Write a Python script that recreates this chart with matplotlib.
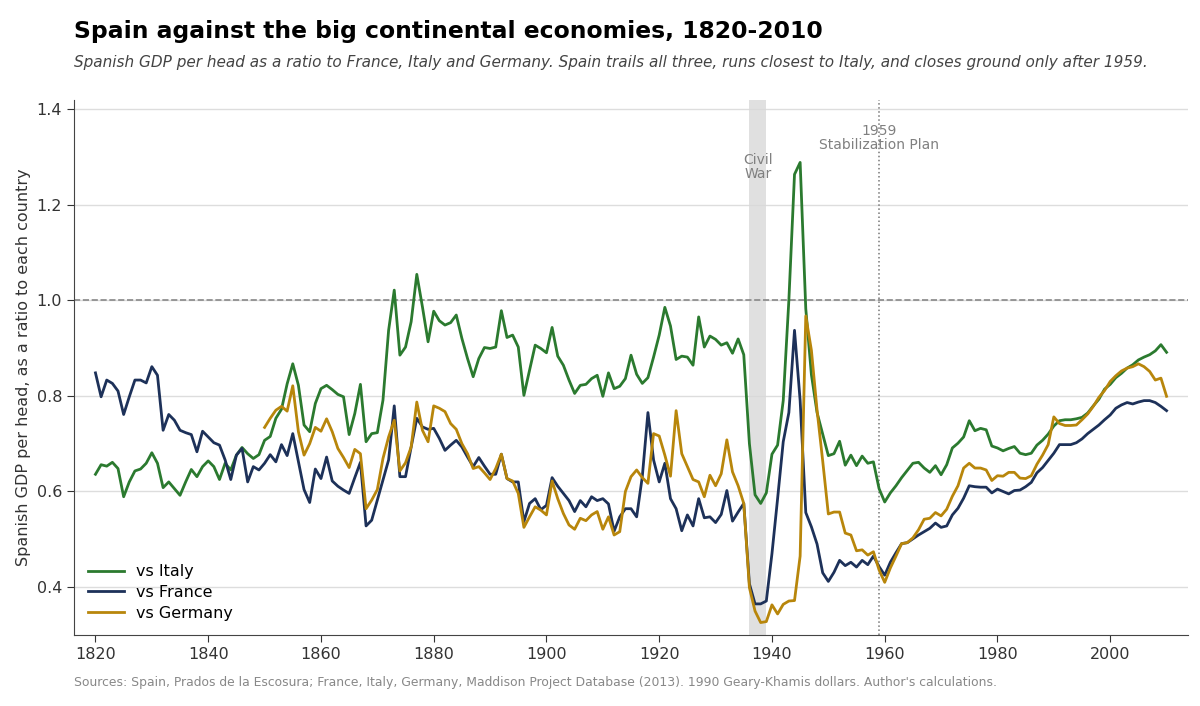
import numpy as np
import matplotlib
matplotlib.use("Agg")
import matplotlib.pyplot as plt

# Spanish GDP per head relative to each country, annual
years = np.arange(1820, 2011)
years_de = np.arange(1850, 2011)

vs_italy = [
    0.636, 0.656, 0.653, 0.661, 0.648, 0.589, 0.620, 0.643, 0.647, 0.659,
    0.681, 0.659, 0.608, 0.620, 0.606, 0.592, 0.620, 0.646, 0.631, 0.652,
    0.664, 0.652, 0.625, 0.659, 0.645, 0.676, 0.692, 0.679, 0.669, 0.677,
    0.707, 0.715, 0.753, 0.772, 0.825, 0.867, 0.822, 0.739, 0.725, 0.784,
    0.815, 0.822, 0.813, 0.803, 0.798, 0.719, 0.763, 0.824, 0.704, 0.721,
    0.723, 0.791, 0.937, 1.021, 0.885, 0.902, 0.955, 1.054, 0.986, 0.913,
    0.977, 0.957, 0.948, 0.953, 0.969, 0.920, 0.878, 0.840, 0.878, 0.901,
    0.899, 0.902, 0.978, 0.922, 0.927, 0.902, 0.801, 0.854, 0.906, 0.899,
    0.890, 0.943, 0.883, 0.864, 0.833, 0.805, 0.822, 0.824, 0.836, 0.843,
    0.799, 0.848, 0.815, 0.820, 0.836, 0.885, 0.845, 0.826, 0.838, 0.881,
    0.927, 0.985, 0.946, 0.876, 0.883, 0.881, 0.864, 0.965, 0.902, 0.925,
    0.918, 0.906, 0.911, 0.889, 0.919, 0.886, 0.700, 0.593, 0.575, 0.597,
    0.678, 0.697, 0.790, 1.000, 1.263, 1.288, 0.982, 0.844, 0.765, 0.720,
    0.675, 0.679, 0.705, 0.655, 0.676, 0.654, 0.674, 0.659, 0.662, 0.606,
    0.578, 0.597, 0.612, 0.629, 0.644, 0.659, 0.661, 0.649, 0.640, 0.654,
    0.635, 0.656, 0.691, 0.701, 0.714, 0.748, 0.727, 0.732, 0.729, 0.695,
    0.691, 0.685, 0.690, 0.694, 0.680, 0.677, 0.680, 0.697, 0.707, 0.720,
    0.737, 0.748, 0.750, 0.750, 0.752, 0.755, 0.764, 0.779, 0.793, 0.814,
    0.824, 0.838, 0.847, 0.858, 0.865, 0.875, 0.881, 0.886, 0.894, 0.907,
    0.891,
]

vs_france = [
    0.848, 0.798, 0.833, 0.826, 0.810, 0.761, 0.798, 0.833, 0.833, 0.827,
    0.861, 0.843, 0.728, 0.761, 0.749, 0.728, 0.723, 0.719, 0.683, 0.726,
    0.714, 0.702, 0.697, 0.666, 0.625, 0.676, 0.690, 0.620, 0.652, 0.645,
    0.659, 0.677, 0.662, 0.698, 0.675, 0.721, 0.662, 0.604, 0.577, 0.647,
    0.627, 0.672, 0.622, 0.611, 0.603, 0.596, 0.629, 0.661, 0.528, 0.540,
    0.582, 0.624, 0.666, 0.779, 0.631, 0.631, 0.693, 0.753, 0.735, 0.730,
    0.732, 0.711, 0.686, 0.697, 0.707, 0.693, 0.672, 0.652, 0.671, 0.653,
    0.636, 0.636, 0.678, 0.627, 0.620, 0.620, 0.537, 0.575, 0.585, 0.562,
    0.571, 0.629, 0.611, 0.596, 0.581, 0.558, 0.581, 0.568, 0.589, 0.581,
    0.585, 0.574, 0.517, 0.547, 0.564, 0.564, 0.547, 0.631, 0.765, 0.666,
    0.620, 0.659, 0.585, 0.564, 0.518, 0.551, 0.528, 0.585, 0.545, 0.547,
    0.535, 0.552, 0.602, 0.538, 0.557, 0.575, 0.407, 0.365, 0.365, 0.371,
    0.470, 0.585, 0.704, 0.765, 0.937, 0.790, 0.556, 0.526, 0.490, 0.430,
    0.412, 0.431, 0.456, 0.445, 0.452, 0.442, 0.456, 0.447, 0.465, 0.443,
    0.425, 0.452, 0.472, 0.491, 0.493, 0.501, 0.509, 0.516, 0.523, 0.534,
    0.525, 0.528, 0.551, 0.565, 0.586, 0.612, 0.610, 0.609, 0.609, 0.597,
    0.605, 0.600, 0.595, 0.602, 0.603, 0.610, 0.619, 0.639, 0.650, 0.665,
    0.680, 0.698, 0.698, 0.698, 0.702, 0.710, 0.721, 0.730, 0.739, 0.750,
    0.760, 0.774, 0.781, 0.786, 0.783, 0.787, 0.790, 0.790, 0.786, 0.778,
    0.769,
]

vs_germany = [
    0.734, 0.753, 0.770, 0.778, 0.768, 0.821, 0.725, 0.676, 0.700, 0.734,
    0.726, 0.752, 0.725, 0.690, 0.671, 0.650, 0.688, 0.679, 0.564, 0.582,
    0.604, 0.669, 0.714, 0.749, 0.643, 0.660, 0.693, 0.787, 0.728, 0.704,
    0.779, 0.774, 0.767, 0.742, 0.730, 0.700, 0.679, 0.648, 0.652, 0.639,
    0.625, 0.648, 0.678, 0.627, 0.622, 0.596, 0.525, 0.547, 0.568, 0.561,
    0.551, 0.622, 0.585, 0.554, 0.530, 0.521, 0.544, 0.539, 0.551, 0.558,
    0.521, 0.547, 0.509, 0.516, 0.600, 0.631, 0.645, 0.629, 0.617, 0.721,
    0.716, 0.676, 0.632, 0.769, 0.679, 0.652, 0.625, 0.620, 0.589, 0.634,
    0.612, 0.637, 0.708, 0.641, 0.612, 0.575, 0.399, 0.350, 0.326, 0.328,
    0.363, 0.344, 0.364, 0.371, 0.372, 0.465, 0.967, 0.895, 0.770, 0.664,
    0.553, 0.557, 0.557, 0.513, 0.509, 0.476, 0.478, 0.467, 0.474, 0.436,
    0.410, 0.440, 0.465, 0.491, 0.493, 0.503, 0.520, 0.542, 0.544, 0.556,
    0.549, 0.563, 0.590, 0.612, 0.649, 0.659, 0.649, 0.649, 0.645, 0.623,
    0.633, 0.632, 0.640, 0.640, 0.628, 0.627, 0.633, 0.657, 0.676, 0.698,
    0.756, 0.742, 0.738, 0.738, 0.739, 0.750, 0.762, 0.778, 0.797, 0.811,
    0.830, 0.842, 0.852, 0.858, 0.861, 0.867, 0.861, 0.851, 0.833, 0.837,
    0.799,
]

civil_war = (1936, 1939)
stabilization_year = 1959

c_italy = "#2b7a2f"
c_france = "#1d3159"
c_germany = "#b8860b"

plt.rcParams["font.family"] = ["DejaVu Sans"]

fig = plt.figure(figsize=(12, 7.06), dpi=100)
ax = fig.add_axes([0.0617, 0.1006, 0.9283, 0.7574])

ax.axvspan(civil_war[0], civil_war[1], color="#d9d9d9", alpha=0.8, lw=0, zorder=1)
ax.axvline(stabilization_year, color="#777777", ls=":", lw=1.1, zorder=1)
ax.axhline(1.0, color="#888888", ls="--", lw=1.2, zorder=1)

ax.plot(years, vs_italy, color=c_italy, lw=2, label="vs Italy", zorder=3)
ax.plot(years, vs_france, color=c_france, lw=2, label="vs France", zorder=3)
ax.plot(years_de, vs_germany, color=c_germany, lw=2, label="vs Germany", zorder=3)

ax.text(sum(civil_war) / 2, 1.278, "Civil\nWar", ha="center", va="center",
        fontsize=10, color="#808080", linespacing=1.0)
ax.text(stabilization_year, 1.339, "1959\nStabilization Plan", ha="center",
        va="center", fontsize=10, color="#808080", linespacing=1.0)

ax.set_xlim(1816.2, 2013.8)
ax.set_ylim(0.30, 1.418)
ax.set_xticks(np.arange(1820, 2001, 20))
ax.set_yticks([0.4, 0.6, 0.8, 1.0, 1.2, 1.4])
ax.set_yticklabels(["0.4", "0.6", "0.8", "1.0", "1.2", "1.4"])
ax.grid(axis="y", color="#dddddd", lw=1, zorder=0)
ax.set_axisbelow(True)

for s in ["top", "right"]:
    ax.spines[s].set_visible(False)
for s in ["left", "bottom"]:
    ax.spines[s].set_color("#444444")
ax.tick_params(labelsize=11.5, colors="#333333", length=5)
ax.set_ylabel("Spanish GDP per head, as a ratio to each country",
              fontsize=11.5, color="#333333")

ax.legend(loc="lower left", frameon=False, fontsize=11.5, handlelength=2.2,
          borderaxespad=0.5, labelspacing=0.35)

fig.text(0.0617, 0.972, "Spain against the big continental economies, 1820-2010",
         fontsize=16.9, fontweight="bold", va="top", ha="left")
fig.text(0.0617, 0.922,
         "Spanish GDP per head as a ratio to France, Italy and Germany. "
         "Spain trails all three, runs closest to Italy, and closes ground only after 1959.",
         fontsize=11.0, style="italic", color="#444444", va="top", ha="left")
fig.text(0.0617, 0.024,
         "Sources: Spain, Prados de la Escosura; France, Italy, Germany, Maddison Project "
         "Database (2013). 1990 Geary-Khamis dollars. Author's calculations.",
         fontsize=8.9, color="#888888", va="bottom", ha="left")

fig.savefig("out.png", dpi=100)
